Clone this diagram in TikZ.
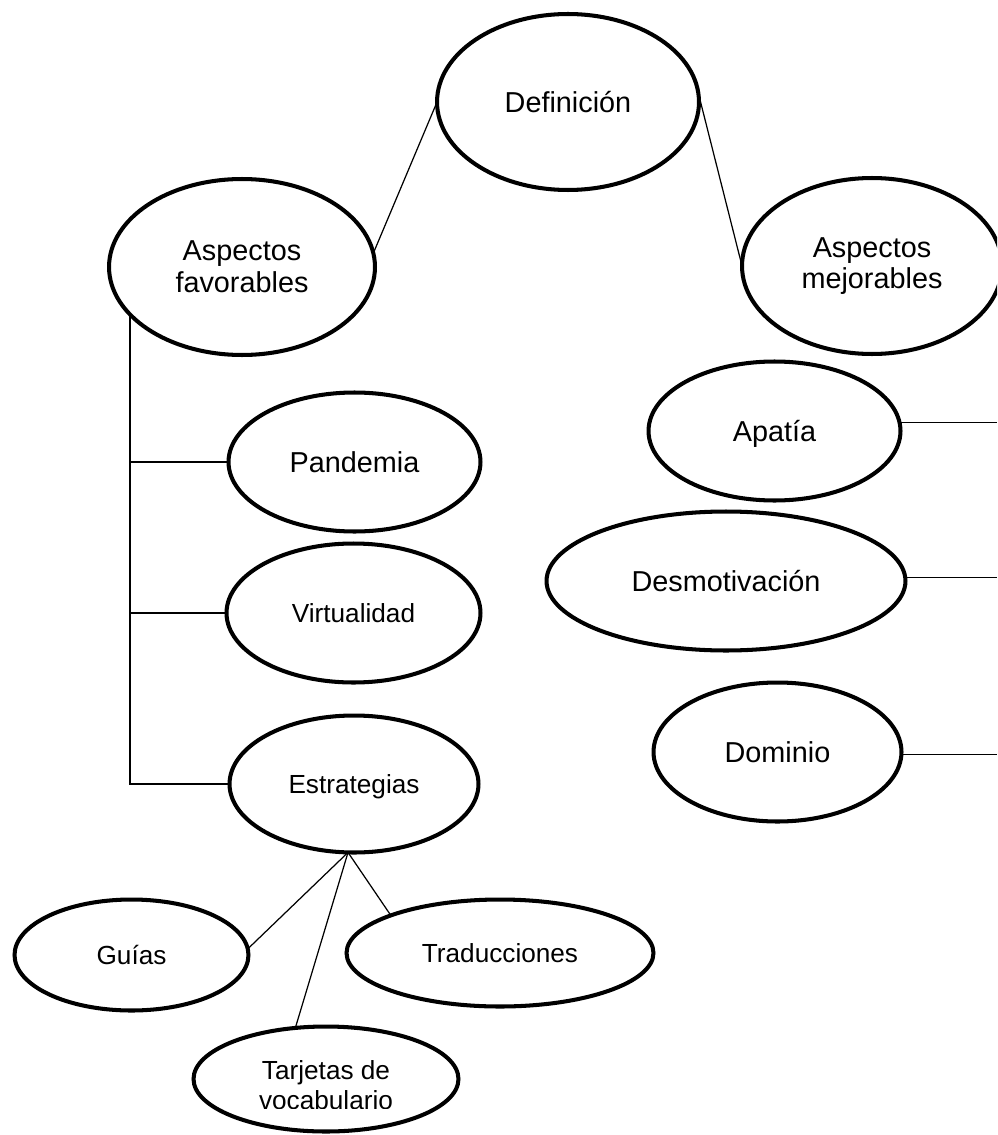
\documentclass[tikz,border=0pt]{standalone}
\usepackage{fontspec}
\setmainfont{Liberation Sans}
\usetikzlibrary{shapes.geometric}

\begin{document}
\begin{tikzpicture}[
    x=0.02cm, y=-0.02cm,
    concept/.style={ellipse, draw, line width=2.3pt, inner sep=0pt, outer sep=0pt, text height=11.8pt, text depth=0pt, font=\fontsize{16.4pt}{18pt}\selectfont},
    subconcept/.style={concept, text height=10.7pt, font=\fontsize{14.9pt}{17pt}\selectfont},
    twoline/.style={align=center, text height={}, text depth={}},
    link/.style={line width=0.7pt}
]
    \useasboundingbox (0,0) rectangle (997,1135);
    \clip (0,0) rectangle (997,1135);

    % Top node
    \node[concept, minimum width=5.24cm, minimum height=3.52cm] (def) at (568,102) {Definición};

    % Second level
    \node[concept, twoline, minimum width=5.32cm, minimum height=3.52cm] (fav) at (242,267) {Aspectos\\favorables};
    \node[concept, twoline, minimum width=5.2cm, minimum height=3.52cm] (mej) at (872,266) {Aspectos\\mejorables};

    % Favourable side
    \node[concept, minimum width=5.04cm, minimum height=2.78cm] (pand) at (354.5,462) {Pandemia};
    \node[subconcept, minimum width=5.08cm, minimum height=2.78cm] (virt) at (353.5,613) {Virtualidad};
    \node[subconcept, minimum width=4.98cm, minimum height=2.74cm] (estr) at (354,784) {Estrategias};

    % Strategies
    \node[subconcept, minimum width=4.68cm, minimum height=2.22cm] (guias) at (131.5,955) {Guías};
    \node[subconcept, minimum width=6.14cm, minimum height=2.14cm] (trad) at (500,953) {Traducciones};
    \node[subconcept, minimum width=5.3cm, minimum height=2.1cm] (tarj) at (326,1079) {};
    \begin{scope}
        \clip (150,1000) rectangle (500,1108);
        \node[subconcept, twoline, draw=none] (tarjtext) at (326,1085.5) {Tarjetas de\\vocabulario};
    \end{scope}

    % Improvable side
    \node[concept, minimum width=5.04cm, minimum height=2.78cm] (apat) at (774.5,431) {Apatía};
    \node[concept, minimum width=7.18cm, minimum height=2.78cm] (desm) at (726,581) {Desmotivación};
    \node[concept, minimum width=4.96cm, minimum height=2.78cm] (domi) at (777.5,752) {Dominio};

    \coordinate (rim) at (997,0);

    % Connections
    \draw[link] (def.west) -- (fav.6);
    \draw[link] (def.4) -- (mej.west);
    \draw[link] (fav.203) |- (estr.west);
    \draw[link] (pand.west) -- (pand.west -| fav.203);
    \draw[link] (virt.west) -- (virt.west -| fav.203);
    \draw[link] (estr.-95) -- (guias.3);
    \draw[link] (estr.-95) -- (tarj.121);
    \draw[link] (estr.-95) -- (trad.161);
    \draw[link] (apat.4) -- (apat.4 -| rim);
    \draw[link] (desm.1) -- (desm.1 -| rim);
    \draw[link] (domi.-1) -- (domi.-1 -| rim);
\end{tikzpicture}
\end{document}
